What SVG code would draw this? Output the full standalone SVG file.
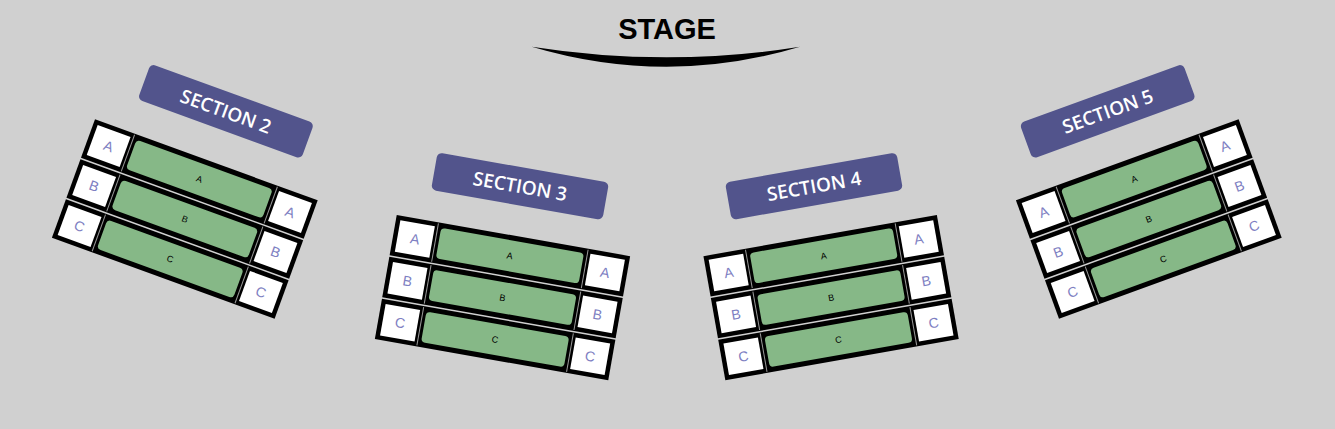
<svg xmlns="http://www.w3.org/2000/svg" xmlns:xlink="http://www.w3.org/1999/xlink" width="1335" height="429" viewBox="0 0 1335 429">
<style>
.bg{fill:#d0d0d0}
.frame{fill:#000}
.box{fill:#fff}
.bar{fill:#86b887}
.hair{stroke:#9a9a9a;stroke-width:1}
.seat{font-family:"Liberation Sans",Arial,sans-serif;font-size:14px;fill:#7e80c2;text-anchor:middle}
.rowlbl{font-family:"Liberation Sans",Arial,sans-serif;font-size:9px;fill:#000;text-anchor:middle}
.banner{fill:#52548c}
.btext{font-family:"Open Sans","Noto Sans",sans-serif;font-weight:600;font-size:19px;fill:#fff;text-anchor:middle}
.stage{font-family:"Liberation Sans",Arial,sans-serif;font-weight:bold;font-size:29px;fill:#000;text-anchor:middle}
</style>
<defs>
<g id="rowshape">
<rect class="frame" x="0" y="0" width="237" height="41"/>
<rect class="box" x="4.5" y="4.5" width="35" height="32"/>
<line class="hair" x1="42.5" y1="1" x2="42.5" y2="40"/>
<rect class="bar" x="46" y="5" width="145" height="31" rx="4"/>
<line class="hair" x1="194.5" y1="1" x2="194.5" y2="40"/>
<rect class="box" x="197.5" y="4.5" width="35" height="32"/>
</g>
<g id="rows">
<g>
<use xlink:href="#rowshape" href="#rowshape"/>
<text class="seat" x="22" y="25.5">A</text>
<text class="rowlbl" x="118.5" y="23.7">A</text>
<text class="seat" x="215" y="25.5">A</text>
</g>
<g transform="translate(0,42.5)">
<use xlink:href="#rowshape" href="#rowshape"/>
<text class="seat" x="22" y="25.5">B</text>
<text class="rowlbl" x="118.5" y="23.7">B</text>
<text class="seat" x="215" y="25.5">B</text>
</g>
<g transform="translate(0,85)">
<use xlink:href="#rowshape" href="#rowshape"/>
<text class="seat" x="22" y="25.5">C</text>
<text class="rowlbl" x="118.5" y="23.7">C</text>
<text class="seat" x="215" y="25.5">C</text>
</g>
</g>
</defs>
<rect class="bg" x="0" y="0" width="1335" height="429"/>
<g id="stage">
<text class="stage" x="667" y="38.5">STAGE</text>
<path d="M531.7,46.7 Q667,86.7 800,46.7 Q667,67.9 531.7,46.7 Z" fill="#000"/>
</g>
<g id="section-2">
<g transform="translate(225.9,111.3) rotate(20)">
<rect class="banner" x="-87" y="-19" width="174" height="38" rx="5"/>
<text class="btext" x="0" y="6.8">SECTION 2</text>
</g>
<g transform="translate(184.8,219) rotate(20) translate(-118.5,-63)">
<use xlink:href="#rows" href="#rows"/>
</g>
</g>
<g id="section-3">
<g transform="translate(520,186.2) rotate(10)">
<rect class="banner" x="-87" y="-19" width="174" height="38" rx="5"/>
<text class="btext" x="0" y="6.8">SECTION 3</text>
</g>
<g transform="translate(502.5,297.6) rotate(10) translate(-118.5,-63)">
<use xlink:href="#rows" href="#rows"/>
</g>
</g>
<g id="section-4">
<g transform="translate(814,186.2) rotate(-10)">
<rect class="banner" x="-87" y="-19" width="174" height="38" rx="5"/>
<text class="btext" x="0" y="6.8">SECTION 4</text>
</g>
<g transform="translate(831.1,297.6) rotate(-10) translate(-118.5,-63)">
<use xlink:href="#rows" href="#rows"/>
</g>
</g>
<g id="section-5">
<g transform="translate(1107.7,111.3) rotate(-20)">
<rect class="banner" x="-87" y="-19" width="174" height="38" rx="5"/>
<text class="btext" x="0" y="6.8">SECTION 5</text>
</g>
<g transform="translate(1148.8,219) rotate(-20) translate(-118.5,-63)">
<use xlink:href="#rows" href="#rows"/>
</g>
</g>
<g id="connectors"/>
</svg>
